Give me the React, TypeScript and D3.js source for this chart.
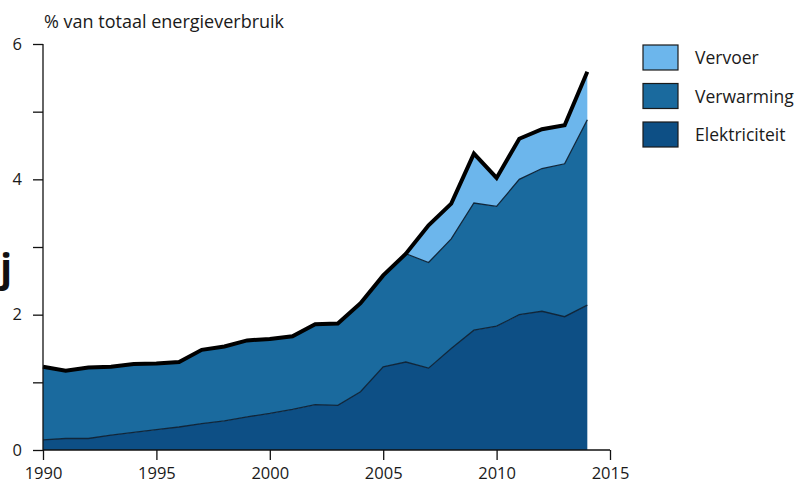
import React, { useEffect, useRef } from 'react'
import * as d3 from 'd3'

// jaren en aandelen (% van totaal energieverbruik)
const years = d3.range(1990, 2015)
const elektriciteit = [0.15, 0.17, 0.17, 0.22, 0.26, 0.30, 0.34, 0.39, 0.43, 0.49, 0.54, 0.60, 0.67, 0.66, 0.86, 1.23, 1.30, 1.21, 1.50, 1.77, 1.83, 2.00, 2.05, 1.97, 2.14]
const verwarming = [1.08, 1.00, 1.05, 1.01, 1.01, 0.98, 0.96, 1.09, 1.10, 1.13, 1.10, 1.08, 1.19, 1.21, 1.31, 1.35, 1.60, 1.56, 1.62, 1.88, 1.77, 2.00, 2.11, 2.26, 2.74]
const vervoer = [0, 0, 0, 0, 0, 0, 0, 0, 0, 0, 0, 0, 0, 0, 0, 0, 0, 0.55, 0.52, 0.73, 0.42, 0.60, 0.58, 0.57, 0.71]
const xTicks = [1990, 1995, 2000, 2005, 2010, 2015]
const yTicks = [0, 1, 2, 3, 4, 5, 6]
const keys = ['Elektriciteit', 'Verwarming', 'Vervoer']
const colors = ['#0d4f85', '#1a6a9e', '#6cb6ec']

const W = 809, H = 494

export default function App() {
  const ref = useRef<SVGSVGElement>(null)

  useEffect(() => {
    const svg = d3.select(ref.current)
    svg.selectAll('*').remove()
    const font = '"Open Sans", Lato, sans-serif'

    const x = d3.scaleLinear().domain([1990, 2015]).range([43, 610])
    const y = d3.scaleLinear().domain([0, 6]).range([450, 44])

    const rows = years.map((yr, i) => ({
      year: yr,
      Elektriciteit: elektriciteit[i],
      Verwarming: verwarming[i],
      Vervoer: vervoer[i],
    }))
    const series = d3.stack<any>().keys(keys)(rows)

    const area = d3.area<any>()
      .x(d => x(d.data.year))
      .y0(d => y(d[0]))
      .y1(d => y(d[1]))
    const topLine = d3.line<any>()
      .x(d => x(d.data.year))
      .y(d => y(d[1]))

    const g = svg.append('g')
    g.selectAll('.area')
      .data(series)
      .enter()
      .append('path')
      .attr('d', d => area(d as any))
      .attr('fill', (d, i) => colors[i])

    // grenslijnen tussen lagen
    series.slice(0, 2).forEach(s => {
      g.append('path')
        .attr('d', topLine(s as any))
        .attr('fill', 'none')
        .attr('stroke', '#10263a')
        .attr('stroke-width', 1.3)
    })
    g.append('path')
      .attr('d', topLine(series[2] as any))
      .attr('fill', 'none')
      .attr('stroke', '#000')
      .attr('stroke-width', 4)
      .attr('stroke-linejoin', 'miter')

    // y-as
    const yAxis = svg.append('g')
      .attr('transform', 'translate(43,0)')
      .call(d3.axisLeft(y).tickValues(yTicks).tickSize(10).tickFormat((d: any) => (d % 2 === 0 ? String(d) : '')))
    yAxis.select('.domain').attr('stroke', '#111').attr('stroke-width', 1.3).attr('d', 'M0,450V44')
    yAxis.selectAll('line').attr('stroke', '#111').attr('stroke-width', 1.3)
    yAxis.selectAll('text')
      .attr('x', -21)
      .attr('font-family', font)
      .attr('font-size', 16.5)
      .attr('font-weight', 500)
      .attr('fill', '#1a1a1a')

    // x-as
    const xAxis = svg.append('g')
      .attr('transform', 'translate(0,450)')
      .call(d3.axisBottom(x).tickValues(xTicks).tickSize(10).tickFormat((d: any) => String(d)))
    xAxis.select('.domain').attr('stroke', '#111').attr('stroke-width', 1.3).attr('d', 'M43,0H610')
    xAxis.selectAll('line').attr('stroke', '#111').attr('stroke-width', 1.3)
    xAxis.selectAll('text')
      .attr('y', 17)
      .attr('font-family', font)
      .attr('font-size', 16.5)
      .attr('font-weight', 500)
      .attr('fill', '#1a1a1a')

    svg.append('text')
      .attr('x', 44)
      .attr('y', 28)
      .attr('font-family', font)
      .attr('font-size', 18)
      .attr('font-weight', 500)
      .attr('fill', '#1a1a1a')
      .text('% van totaal energieverbruik')

    // legenda
    const legendKeys = ['Vervoer', 'Verwarming', 'Elektriciteit']
    const legendColors = [colors[2], colors[1], colors[0]]
    legendKeys.forEach((k, i) => {
      const ly = 45 + i * 38.5
      svg.append('rect')
        .attr('x', 643).attr('y', ly)
        .attr('width', 35).attr('height', 25)
        .attr('fill', legendColors[i])
        .attr('stroke', '#1a1a1a').attr('stroke-width', 1.2)
      svg.append('text')
        .attr('x', 695).attr('y', ly + 19)
        .attr('font-family', font)
        .attr('font-size', 17.5)
        .attr('font-weight', 500)
        .attr('fill', '#1a1a1a')
        .text(k)
    })

    // scanrestje links
    svg.append('text')
      .attr('x', 0).attr('y', 282)
      .attr('font-family', font)
      .attr('font-size', 40)
      .attr('font-weight', 700)
      .attr('fill', '#111')
      .text('j')
  }, [])

  return (
    <svg ref={ref} width={W} height={H}
      style={{ position: 'absolute', left: 0, top: 0, background: '#fff', display: 'block' }} />
  )
}
